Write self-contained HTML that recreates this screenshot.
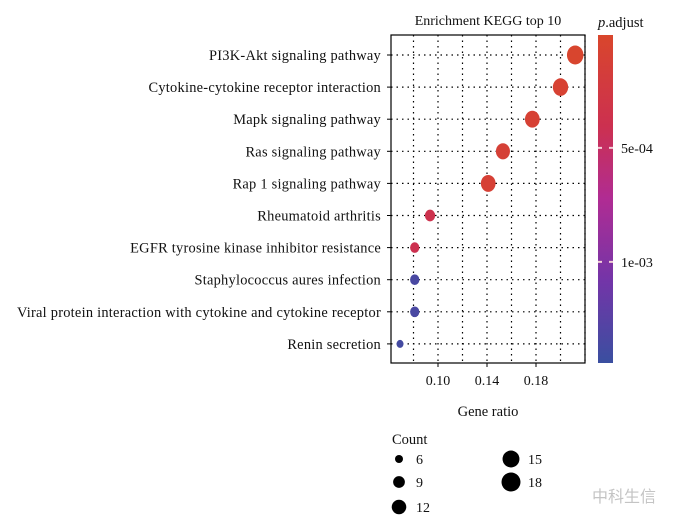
<!DOCTYPE html>
<html><head><meta charset="utf-8"><style>
body{margin:0;background:#fff;}
svg text{font-family:"Liberation Serif","Noto Serif CJK SC",serif;fill:#111;}
</style></head><body>
<svg id="chart" width="676" height="526" viewBox="0 0 676 526" xmlns="http://www.w3.org/2000/svg">
<defs>
<linearGradient id="cb" x1="0" y1="1" x2="0" y2="0">
<stop offset="0" stop-color="#3a4fa0"/><stop offset="0.25" stop-color="#7335a8"/><stop offset="0.5" stop-color="#b02c93"/><stop offset="0.72" stop-color="#cc3050"/><stop offset="1" stop-color="#d9462c"/>
</linearGradient>
</defs>
<g id="g"></g>
</svg>
<script>
const categories=["PI3K-Akt signaling pathway","Cytokine-cytokine receptor interaction","Mapk signaling pathway","Ras signaling pathway","Rap 1 signaling pathway","Rheumatoid arthritis","EGFR tyrosine kinase inhibitor resistance","Staphylococcus aures infection","Viral protein interaction with cytokine and cytokine receptor","Renin secretion"];
const geneRatio=[0.212,0.200,0.177,0.153,0.141,0.0935,0.081,0.081,0.081,0.069];
const counts=[18,16,15,14,15,9,8,8,8,6];
const padj=[0.00003,0.00008,0.00010,0.00012,0.00011,0.00038,0.00040,0.00135,0.00135,0.00138];
const xTicks=[0.10,0.14,0.18];
const xTickLabels=["0.10","0.14","0.18"];
const cbTicks=[0.0005,0.001];
const cbLabels=["5e-04","1e-03"];
const legendCounts=[6,9,12,15,18];

const NS="http://www.w3.org/2000/svg";
const g=document.getElementById('g');
function el(t,a,txt){const e=document.createElementNS(NS,t);for(const k in a)e.setAttribute(k,a[k]);if(txt!==undefined)e.textContent=txt;g.appendChild(e);return e;}
const px0=391,px1=585,py0=35,py1=363;
const xs=v=>438+(v-0.10)*1225;
const ys=i=>55+i*32.1;
const rs=c=>Math.sqrt(16+(c-6)*(90-16)/12);
const cbTop=35,cbBot=363;
const cy=p=>cbTop+(p-0.000005)/0.0005*114;
const stops=[[0,[58,79,160]],[0.25,[115,53,168]],[0.5,[176,44,147]],[0.72,[204,48,80]],[1,[217,70,44]]];
function col(p){let t=1-(cy(p)-cbTop)/(cbBot-cbTop);t=Math.max(0,Math.min(1,t));for(let i=1;i<stops.length;i++){if(t<=stops[i][0]){const a=stops[i-1],b=stops[i],f=(t-a[0])/(b[0]-a[0]);return 'rgb('+a[1].map((v,k)=>Math.round(v+(b[1][k]-v)*f)).join(',')+')';}}return 'rgb(217,70,44)';}

for(let v=0.08;v<=0.2201;v+=0.02){const l=el('line',{x1:xs(v),x2:xs(v),y1:py0,y2:py1,stroke:'#000','stroke-width':1.2,'stroke-dasharray':'1.5 4'});}
categories.forEach((c,i)=>{
 const l=el('line',{x1:px0,x2:px1,y1:ys(i),y2:ys(i),stroke:'#000','stroke-width':1.2,'stroke-dasharray':'1.5 4'});
 
 const tk=el('line',{x1:px0-4,x2:px0,y1:ys(i),y2:ys(i),stroke:'#000'});
 
 const t=el('text',{x:381,y:ys(i)+5,'text-anchor':'end','font-size':14.4,'letter-spacing':0.25},c);
 
});
const fr=el('rect',{x:px0,y:py0,width:px1-px0,height:py1-py0,fill:'none',stroke:'#000','stroke-width':1.2});

xTicks.forEach((v,i)=>{
 const tk=el('line',{x1:xs(v),x2:xs(v),y1:py1,y2:py1+4,stroke:'#000'});
 
 const t=el('text',{x:xs(v),y:py1+22,'text-anchor':'middle','font-size':14},xTickLabels[i]);
 
});
geneRatio.forEach((v,i)=>{
 const r=rs(counts[i]);
 const d=el('ellipse',{cx:xs(v),cy:ys(i),rx:r*0.87,ry:r,fill:col(padj[i])});
 
});
let t=el('text',{x:488,y:25,'text-anchor':'middle','font-size':14},'Enrichment KEGG top 10');

t=el('text',{x:488,y:416,'text-anchor':'middle','font-size':14.5},'Gene ratio');

const cbr=el('rect',{x:598,y:cbTop,width:15,height:cbBot-cbTop,fill:'url(#cb)'});

t=el('text',{x:598,y:27,'font-size':14.5});t.innerHTML='<tspan font-style="italic">p</tspan>.adjust';

cbTicks.forEach((v,i)=>{
 const y=cy(v);
 const a=el('line',{x1:598,x2:602,y1:y,y2:y,stroke:'#f4d0d8','stroke-width':2});
 
 const b=el('line',{x1:609,x2:613,y1:y,y2:y,stroke:'#f4d0d8','stroke-width':2});
 
 const l=el('text',{x:621,y:y+5,'font-size':14},cbLabels[i]);
 
});
t=el('text',{x:392,y:444,'font-size':14.5},'Count');

const lx=[399,399,399,511,511],ly=[459,482,507,459,482];
legendCounts.forEach((c,i)=>{
 const d=el('circle',{cx:lx[i],cy:ly[i],r:rs(c),fill:'#000'});
 
 const l=el('text',{x:lx[i]+17,y:ly[i]+5,'font-size':14},String(c));
 
});
t=el('text',{x:592,y:502,'font-size':16,style:'fill:#c4c4c4;font-family:"Noto Sans CJK SC",sans-serif'},'中科生信');

</script>
</body></html>
